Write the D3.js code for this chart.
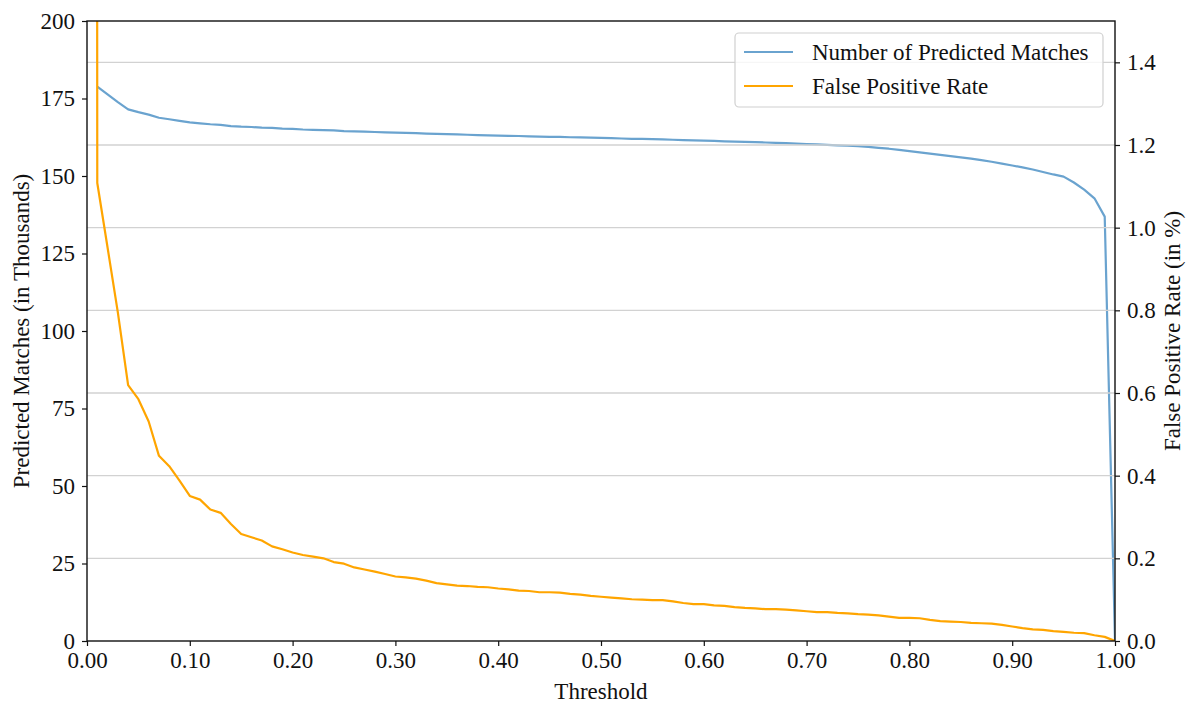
<!DOCTYPE html>
<html>
<head>
<meta charset="utf-8">
<script src="https://cdn.jsdelivr.net/npm/d3@7"></script>
<style>
  html, body { margin: 0; padding: 0; background: #fff; }
</style>
</head>
<body>
<svg id="chart" width="1189" height="704"></svg>
<script>
// ---- data ----
const matchThresholds = d3.range(1, 101).map(i => i / 100);   // 0.01 .. 1.00
const predictedMatches = [
  178.8, 176.3, 173.8, 171.5, 170.6, 169.8, 168.8, 168.3, 167.8, 167.3,
  167.0, 166.7, 166.5, 166.1, 165.9, 165.8, 165.6, 165.5, 165.3, 165.2,
  165.0, 164.9, 164.8, 164.7, 164.5, 164.4, 164.3, 164.2, 164.1, 164.0,
  163.9, 163.8, 163.7, 163.6, 163.5, 163.4, 163.3, 163.2, 163.1, 163.0,
  162.95, 162.9, 162.8, 162.7, 162.65, 162.6, 162.5, 162.45, 162.4, 162.3,
  162.2, 162.1, 162.0, 161.95, 161.9, 161.8, 161.7, 161.6, 161.5, 161.4,
  161.3, 161.2, 161.1, 161.0, 160.9, 160.8, 160.7, 160.6, 160.45, 160.3,
  160.2, 160.05, 159.9, 159.75, 159.6, 159.4, 159.1, 158.8, 158.4, 158.0,
  157.6, 157.2, 156.8, 156.4, 156.0, 155.6, 155.1, 154.6, 154.0, 153.4,
  152.8, 152.1, 151.3, 150.5, 149.8, 147.9, 145.6, 142.8, 136.9, 0
];
const fprThresholds = d3.range(0, 101).map(i => i / 100);     // 0.00 .. 1.00
const falsePositiveRate = [
  40.0,
  1.108, 0.952, 0.795, 0.619, 0.585, 0.531, 0.448, 0.423, 0.388, 0.351,
  0.342, 0.318, 0.310, 0.283, 0.259, 0.251, 0.243, 0.229, 0.222, 0.214,
  0.208, 0.204, 0.200, 0.191, 0.187, 0.178, 0.173, 0.168, 0.162, 0.156,
  0.154, 0.151, 0.146, 0.140, 0.137, 0.134, 0.133, 0.131, 0.130, 0.127,
  0.125, 0.122, 0.121, 0.118, 0.118, 0.117, 0.114, 0.112, 0.109, 0.107,
  0.105, 0.103, 0.101, 0.100, 0.099, 0.099, 0.096, 0.092, 0.089, 0.089,
  0.086, 0.085, 0.082, 0.080, 0.079, 0.077, 0.077, 0.076, 0.074, 0.072,
  0.070, 0.070, 0.068, 0.067, 0.065, 0.064, 0.062, 0.059, 0.056, 0.056,
  0.055, 0.051, 0.048, 0.047, 0.046, 0.044, 0.043, 0.042, 0.039, 0.035,
  0.031, 0.028, 0.027, 0.024, 0.022, 0.020, 0.019, 0.014, 0.010, 0.0
];
const xTicks = d3.range(0, 11).map(i => i / 10);
const leftTicks = [0, 25, 50, 75, 100, 125, 150, 175, 200];
const rightTicks = [0, 0.2, 0.4, 0.6, 0.8, 1.0, 1.2, 1.4];
const seriesNames = ["Number of Predicted Matches", "False Positive Rate"];
const seriesColors = ["#6aa3cf", "#ffa500"];

const FONT = '"Liberation Serif", "Times New Roman", Tinos, serif';

// ---- layout ----
const svg = d3.select("#chart");
const L = 87, R = 1115, T = 21, B = 641;
const x = d3.scaleLinear().domain([0, 1]).range([L, R]);
const yL = d3.scaleLinear().domain([0, 200]).range([B, T]);
const yR = d3.scaleLinear().domain([0, 1.5]).range([B, T]);

svg.append("defs").append("clipPath").attr("id", "clip")
  .append("rect").attr("x", L).attr("y", T).attr("width", R - L).attr("height", B - T);

const plot = svg.append("g").attr("clip-path", "url(#clip)");

// blue series (left axis)
const matchData = matchThresholds.map((t, i) => [t, predictedMatches[i]]);
plot.append("path").datum(matchData)
  .attr("fill", "none").attr("stroke", seriesColors[0]).attr("stroke-width", 2.2)
  .attr("stroke-linejoin", "round")
  .attr("d", d3.line().x(d => x(d[0])).y(d => yL(d[1])));

// grid (right axis)
plot.append("g").selectAll("line").data(rightTicks.filter(v => v > 0)).join("line")
  .attr("x1", L).attr("x2", R)
  .attr("y1", d => yR(d)).attr("y2", d => yR(d))
  .attr("stroke", "#d2d2d2").attr("stroke-width", 1.3);

// orange series (right axis)
const fprData = fprThresholds.map((t, i) => [t, falsePositiveRate[i]]);
plot.append("path").datum(fprData)
  .attr("fill", "none").attr("stroke", seriesColors[1]).attr("stroke-width", 2.2)
  .attr("stroke-linejoin", "round")
  .attr("d", d3.line().x(d => x(d[0])).y(d => yR(d[1])));

// axes
const fs = "23px";
const gx = svg.append("g").attr("transform", `translate(0,${B})`)
  .call(d3.axisBottom(x).tickValues(xTicks).tickFormat(d3.format(".2f")).tickSize(5).tickPadding(6).tickSizeOuter(0));
const gl = svg.append("g").attr("transform", `translate(${L},0)`)
  .call(d3.axisLeft(yL).tickValues(leftTicks).tickSize(5).tickPadding(7).tickSizeOuter(0));
const gr = svg.append("g").attr("transform", `translate(${R},0)`)
  .call(d3.axisRight(yR).tickValues(rightTicks).tickFormat(d3.format(".1f")).tickSize(5).tickPadding(7).tickSizeOuter(0));
[gx, gl, gr].forEach(g => {
  g.attr("font-family", null).attr("font-size", null);
  g.select(".domain").remove();
  g.selectAll("text").style("font-size", fs).style("font-family", FONT).attr("fill", "#111");
  g.selectAll("line").attr("stroke", "#111").attr("stroke-width", 1.2);
});

// frame
svg.append("rect").attr("x", L).attr("y", T).attr("width", R - L).attr("height", B - T)
  .attr("fill", "none").attr("stroke", "#111").attr("stroke-width", 1.4);

// axis labels
const lab = (sel) => sel.style("font-family", FONT).style("font-size", fs).attr("fill", "#111");
svg.append("text").attr("x", (L + R) / 2).attr("y", 699).attr("text-anchor", "middle")
  .call(lab).text("Threshold");
svg.append("text").attr("transform", `translate(29,${(T + B) / 2}) rotate(-90)`)
  .attr("text-anchor", "middle").call(lab).text("Predicted Matches (in Thousands)");
svg.append("text").attr("transform", `translate(1180,${(T + B) / 2}) rotate(-90)`)
  .attr("text-anchor", "middle").call(lab).text("False Positive Rate (in %)");

// legend
const lg = svg.append("g");
lg.append("rect").attr("x", 735).attr("y", 33).attr("width", 368).attr("height", 74).attr("rx", 4)
  .attr("fill", "white").attr("fill-opacity", 0.8).attr("stroke", "#d0d0d0").attr("stroke-width", 1.2);
seriesNames.forEach((name, i) => {
  const yy = 52 + i * 34;
  lg.append("line").attr("x1", 744).attr("x2", 793).attr("y1", yy).attr("y2", yy)
    .attr("stroke", seriesColors[i]).attr("stroke-width", 2.2);
  lg.append("text").attr("x", 812).attr("y", yy + 8).call(lab).text(name);
});
</script>
</body>
</html>
